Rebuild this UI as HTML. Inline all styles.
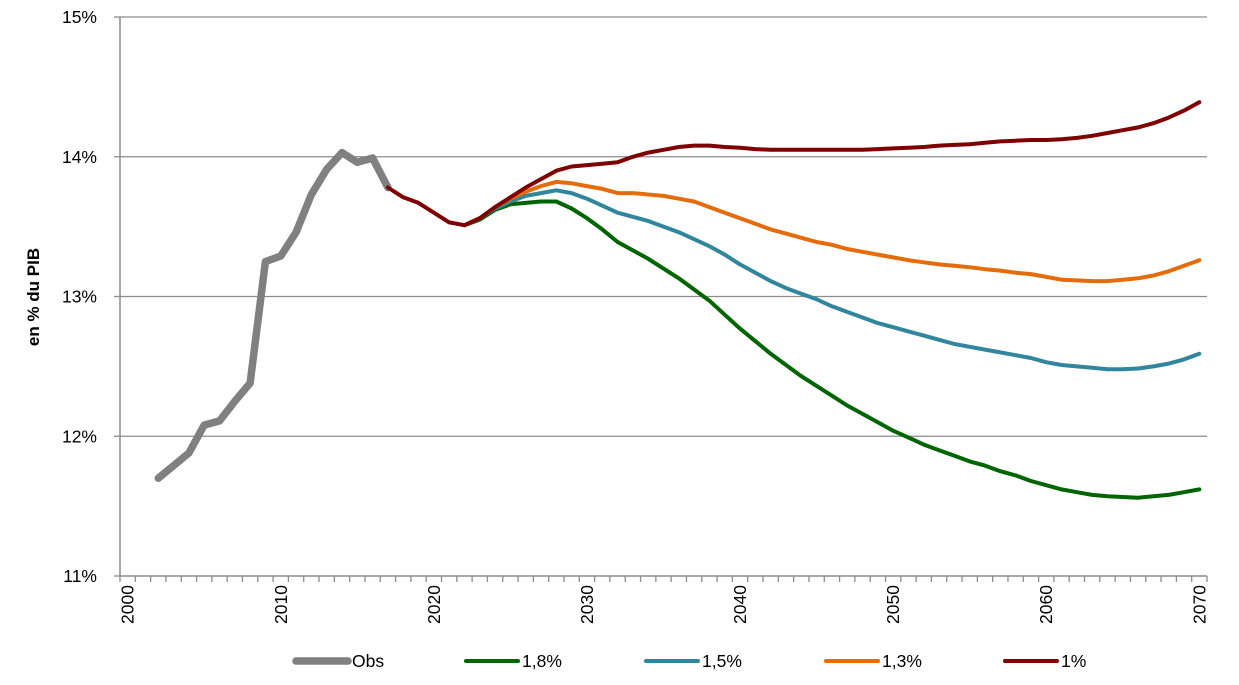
<!DOCTYPE html>
<html><head><meta charset="utf-8"><style>
body{margin:0;background:#fff;font-family:"Liberation Sans",sans-serif}
svg text{font-family:"Liberation Sans",sans-serif}
</style></head><body>
<svg id="chart" width="1239" height="680" viewBox="0 0 1239 680" xmlns="http://www.w3.org/2000/svg">
<g id="grid"></g>
<g id="axes"></g>
<g id="series"></g>
<text x="0" y="0" transform="translate(39,297) rotate(-90)" text-anchor="middle" font-size="17" font-weight="bold">en % du PIB</text>
<g id="legend"></g>
</svg>
<script>
const yTicks=[11,12,13,14,15];
const yTickLabels=["11%","12%","13%","14%","15%"];
const xTickYears=[2000,2010,2020,2030,2040,2050,2060,2070];
const obsStart=2002;
const obs=[11.70,11.79,11.88,12.08,12.11,12.25,12.38,13.25,13.29,13.46,13.73,13.91,14.03,13.96,13.99,13.78];
const scenStart=2022;
const s18=[13.51,13.55,13.62,13.66,13.67,13.68,13.68,13.63,13.56,13.48,13.39,13.33,13.27,13.20,13.13,13.05,12.97,12.87,12.77,12.68,12.59,12.51,12.43,12.36,12.29,12.22,12.16,12.10,12.04,11.99,11.94,11.90,11.86,11.82,11.79,11.75,11.72,11.68,11.65,11.62,11.60,11.58,11.57,11.565,11.56,11.57,11.58,11.60,11.62];
const s15=[13.51,13.56,13.63,13.68,13.72,13.74,13.76,13.74,13.70,13.65,13.60,13.57,13.54,13.50,13.46,13.41,13.36,13.30,13.23,13.17,13.11,13.06,13.02,12.98,12.93,12.89,12.85,12.81,12.78,12.75,12.72,12.69,12.66,12.64,12.62,12.60,12.58,12.56,12.53,12.51,12.50,12.49,12.48,12.48,12.485,12.50,12.52,12.55,12.59];
const s13=[13.51,13.56,13.64,13.70,13.75,13.79,13.82,13.81,13.79,13.77,13.74,13.74,13.73,13.72,13.70,13.68,13.64,13.60,13.56,13.52,13.48,13.45,13.42,13.39,13.37,13.34,13.32,13.30,13.28,13.26,13.245,13.23,13.22,13.21,13.195,13.185,13.17,13.16,13.14,13.12,13.115,13.11,13.11,13.12,13.13,13.15,13.18,13.22,13.26];
const redStart=2017;
const s10=[13.78,13.71,13.67,13.60,13.53,13.51,13.56,13.64,13.71,13.78,13.84,13.90,13.93,13.94,13.95,13.96,14.00,14.03,14.05,14.07,14.08,14.08,14.07,14.065,14.055,14.05,14.05,14.05,14.05,14.05,14.05,14.05,14.055,14.06,14.065,14.07,14.08,14.085,14.09,14.10,14.11,14.115,14.12,14.12,14.125,14.135,14.15,14.17,14.19,14.21,14.24,14.28,14.33,14.39];

const NS="http://www.w3.org/2000/svg";
const L=120,R=1207,T=17,B=576,n=71;
const cw=(R-L)/n;
function x(yr){return L+cw*(yr-2000+0.5);}
function y(v){return B-(v-11)/(15-11)*(B-T);}
function mk(tag,attrs,parent){const e=document.createElementNS(NS,tag);for(const k in attrs)e.setAttribute(k,attrs[k]);parent.appendChild(e);return e;}
const grid=document.getElementById('grid'),axes=document.getElementById('axes'),ser=document.getElementById('series'),leg=document.getElementById('legend');
yTicks.forEach((v,i)=>{
  if(i>0){const g=mk('line',{x1:L,x2:R,y1:y(v),y2:y(v),stroke:'#8c8c8c','stroke-width':1.3},grid);
  
  }
  const tk=mk('line',{x1:L-6,x2:L,y1:y(v),y2:y(v),stroke:'#8c8c8c','stroke-width':1.3},axes);
  
  
  const t=mk('text',{x:97,y:y(v)+6,'text-anchor':'end','font-size':17.5},axes);
  
  
  t.textContent=yTickLabels[i];
});
const ya=mk('line',{x1:L,x2:L,y1:T,y2:B,stroke:'#8c8c8c','stroke-width':1.5},axes);


const xa=mk('line',{x1:L,x2:R,y1:B,y2:B,stroke:'#8c8c8c','stroke-width':1.5},axes);


for(let i=0;i<=n;i++){
  const xx=L+cw*i;
  const tk=mk('line',{x1:xx,x2:xx,y1:B,y2:B+6,stroke:'#8c8c8c','stroke-width':1.3},axes);
  
  
}
xTickYears.forEach(yr=>{
  const t=mk('text',{x:0,y:0,transform:`translate(${x(yr)+6},585) rotate(-90)`,'text-anchor':'end','font-size':17.5},axes);
  
  
  t.textContent=yr;
});
function line(vals,start,color,w,name){
  const d=vals.map((v,i)=>(i?'L':'M')+x(start+i).toFixed(1)+','+y(v).toFixed(1)).join('');
  const p=mk('path',{d:d,fill:'none',stroke:color,'stroke-width':w,'stroke-linejoin':'round','stroke-linecap':'round'},ser);
  
  
}
line(obs,obsStart,'#808080',7.5,'obs-line');
line(s18,scenStart,'#006400',4,'line-1-8');
line(s15,scenStart,'#31859c',4,'line-1-5');
line(s13,scenStart,'#e46c0a',4,'line-1-3');
line(s10,redStart,'#7f0000',4,'line-1');
const legItems=[["Obs",'#808080',7.5,296],["1,8%",'#006400',4,466],["1,5%",'#31859c',4,646],["1,3%",'#e46c0a',4,826],["1%",'#7f0000',4,1005]];
legItems.forEach(it=>{
  const g=mk('g',{},leg);
  
  
  mk('line',{x1:it[3],x2:it[3]+52,y1:661,y2:661,stroke:it[1],'stroke-width':it[2],'stroke-linecap':'round'},g);
  const t=mk('text',{x:it[3]+56,y:667,'font-size':17.5},g);
  t.textContent=it[0];
});
</script>
</body></html>
